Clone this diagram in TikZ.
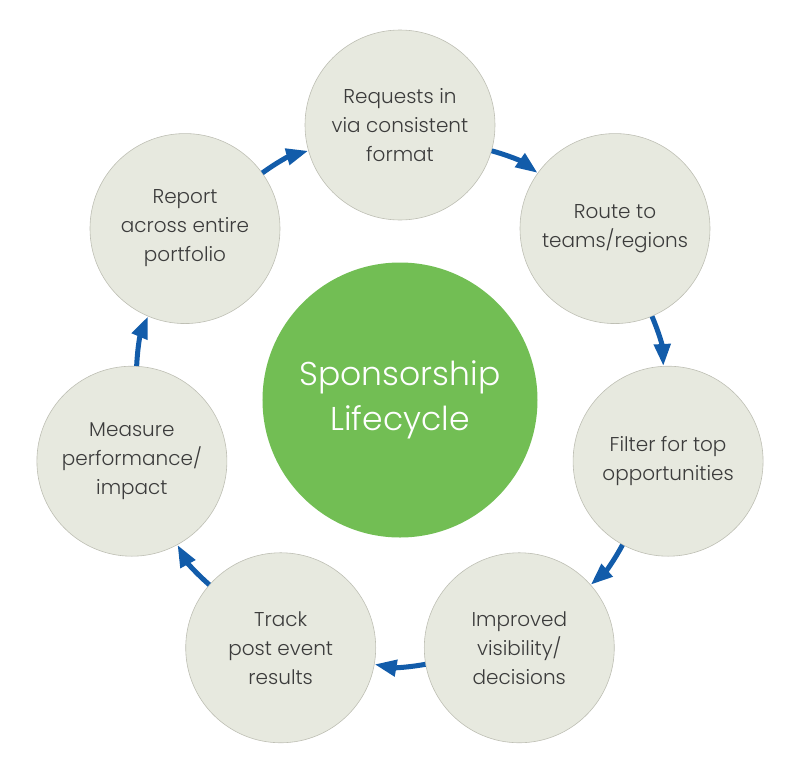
\documentclass[tikz,border=0pt]{standalone}
\usepackage{fontspec}
\setmainfont{Poppins Light}
\usetikzlibrary{arrows.meta}
\definecolor{stagefill}{RGB}{231,233,223}
\definecolor{stageedge}{RGB}{190,191,180}
\definecolor{stagetext}{RGB}{60,60,60}
\definecolor{hubgreen}{RGB}{114,190,84}
\definecolor{flowblue}{RGB}{18,92,170}
\begin{document}
\begin{tikzpicture}[x=1pt, y=1pt,
    stage/.style={circle, draw=stageedge, line width=0.6pt, fill=stagefill,
      minimum size=190pt, inner sep=0pt, align=center, text=stagetext,
      font=\fontsize{20}{29}\selectfont},
    hub/.style={circle, fill=hubgreen, minimum size=275pt, inner sep=0pt,
      align=center, text=white, font=\fontsize{33}{45}\selectfont},
    flow/.style={draw=flowblue, line width=5pt,
      -{Triangle[length=22pt,width=16pt]}, bend left=10}]
    % Sponsorship lifecycle ring
    \useasboundingbox (-400,-380) rectangle (400,400);
    \coordinate (c) at (0,0);
    
    \node[hub] (hub) at (c) {Sponsorship\\Lifecycle};
    
    \node[stage] (request) at (90:275) {Requests in\\via consistent\\format};
    \node[stage] (route) at (38.57:275) {Route to\\teams/regions};
    \node[stage] (filter) at (-12.86:275) {Filter for top\\opportunities};
    \node[stage] (visible) at (-64.29:275) {Improved\\visibility/\\decisions};
    \node[stage] (track) at (-115.71:275) {Track\\post event\\results};
    \node[stage] (measure) at (-167.14:275) {Measure\\performance/\\impact};
    \node[stage] (report) at (141.43:275) {Report\\across entire\\portfolio};
    
    \foreach \a/\b in {request/route, route/filter, filter/visible, visible/track,
      track/measure, measure/report, report/request} \draw[flow] (\a) to (\b);
\end{tikzpicture}
\end{document}
